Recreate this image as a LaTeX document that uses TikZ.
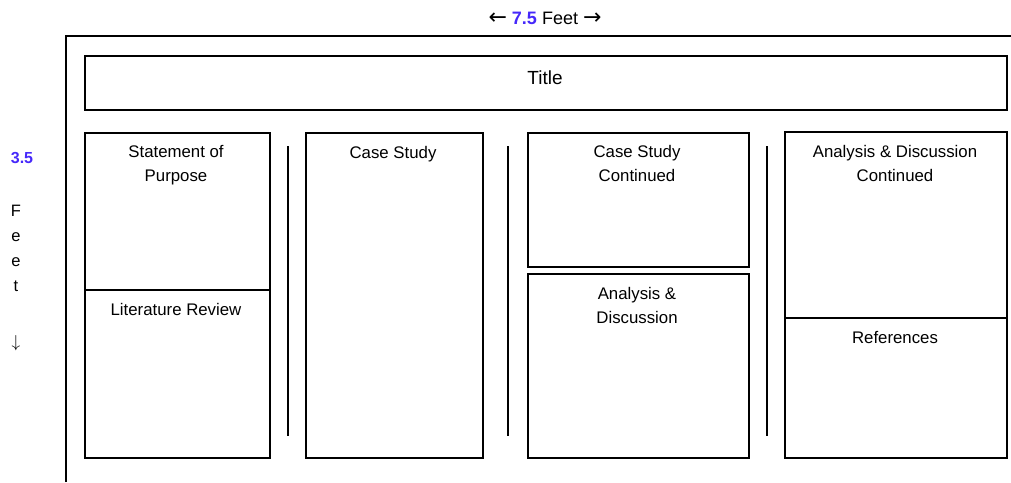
\documentclass[tikz,border=0pt]{standalone}
\usepackage{fontspec}
\setmainfont{Liberation Sans}
\newfontfamily\arrowfont{DejaVu Sans}
\definecolor{numcol}{RGB}{70,40,250}
\begin{document}
\begin{tikzpicture}[x=1pt,y=-1pt,
  box/.style={draw=black,line width=1.6pt,rectangle,inner sep=0pt,anchor=north west},
  sep/.style={draw=black,line width=1.6pt},
  lbl/.style={font=\fontsize{16.8}{24}\selectfont,align=center,inner sep=0pt,anchor=base},
  ttl/.style={font=\fontsize{19}{23}\selectfont,inner sep=0pt,anchor=base}]
\useasboundingbox (0,0) rectangle (1011,482);
% outer frame
\coordinate (fbl) at (66,482);
\coordinate (ftl) at (66,36);
\coordinate (ftr) at (1011,36);
\draw[line width=1.6pt] (fbl) -- (ftl) -- (ftr);
% dimension labels
\node[ttl,font=\fontsize{18}{20}\selectfont] (wlab) at (545,24) {{\arrowfont\fontsize{22}{22}\selectfont\raisebox{-0.5pt}{←}} {\color{numcol}\bfseries 7.5} Feet {\arrowfont\fontsize{22}{22}\selectfont\raisebox{-0.5pt}{→}}};
\node[ttl,font=\fontsize{16}{20}\selectfont\bfseries,text=numcol] (hnum) at (22,163) {3.5};
\node[ttl,font=\fontsize{16.5}{25}\selectfont,align=center] (hlab) at (16,291) {F\\e\\e\\t};
\node[ttl,font=\fontsize{19}{20}\selectfont] (harr) at (16,347) {$\downarrow$};
% title
\node[box,minimum width=922pt,minimum height=54pt] (title) at (84,55) {};
\node[ttl] (titletxt) at (545,84) {Title};
% column 1
\node[box,minimum width=185pt,minimum height=157pt] (c1a) at (84,132) {};
\node[box,minimum width=185pt,minimum height=168pt] (c1b) at (84,289) {};
\node[lbl] (t1a) at (176,181) {Statement of\\Purpose};
\node[lbl] (t1b) at (176,315) {Literature Review};
% column 2
\node[box,minimum width=177pt,minimum height=325pt] (c2) at (305,132) {};
\node[lbl] (t2) at (393,158) {Case Study};
% column 3
\node[box,minimum width=221pt,minimum height=134pt] (c3a) at (527,132) {};
\node[box,minimum width=221pt,minimum height=184pt] (c3b) at (527,273) {};
\node[lbl] (t3a) at (637,181) {Case Study\\Continued};
\node[lbl] (t3b) at (637,323) {Analysis \&\\Discussion};
% column 4
\node[box,minimum width=222pt,minimum height=186pt] (c4a) at (784,131) {};
\node[box,minimum width=222pt,minimum height=140pt] (c4b) at (784,317) {};
\node[lbl] (t4a) at (895,181) {Analysis \& Discussion\\Continued};
\node[lbl] (t4b) at (895,343) {References};
% separators
\coordinate (s1t) at (288,146); \coordinate (s1b) at (288,436);
\coordinate (s2t) at (508,146); \coordinate (s2b) at (508,436);
\coordinate (s3t) at (767,146); \coordinate (s3b) at (767,436);
\draw[sep] (s1t) -- (s1b);
\draw[sep] (s2t) -- (s2b);
\draw[sep] (s3t) -- (s3b);
\end{tikzpicture}
\end{document}
